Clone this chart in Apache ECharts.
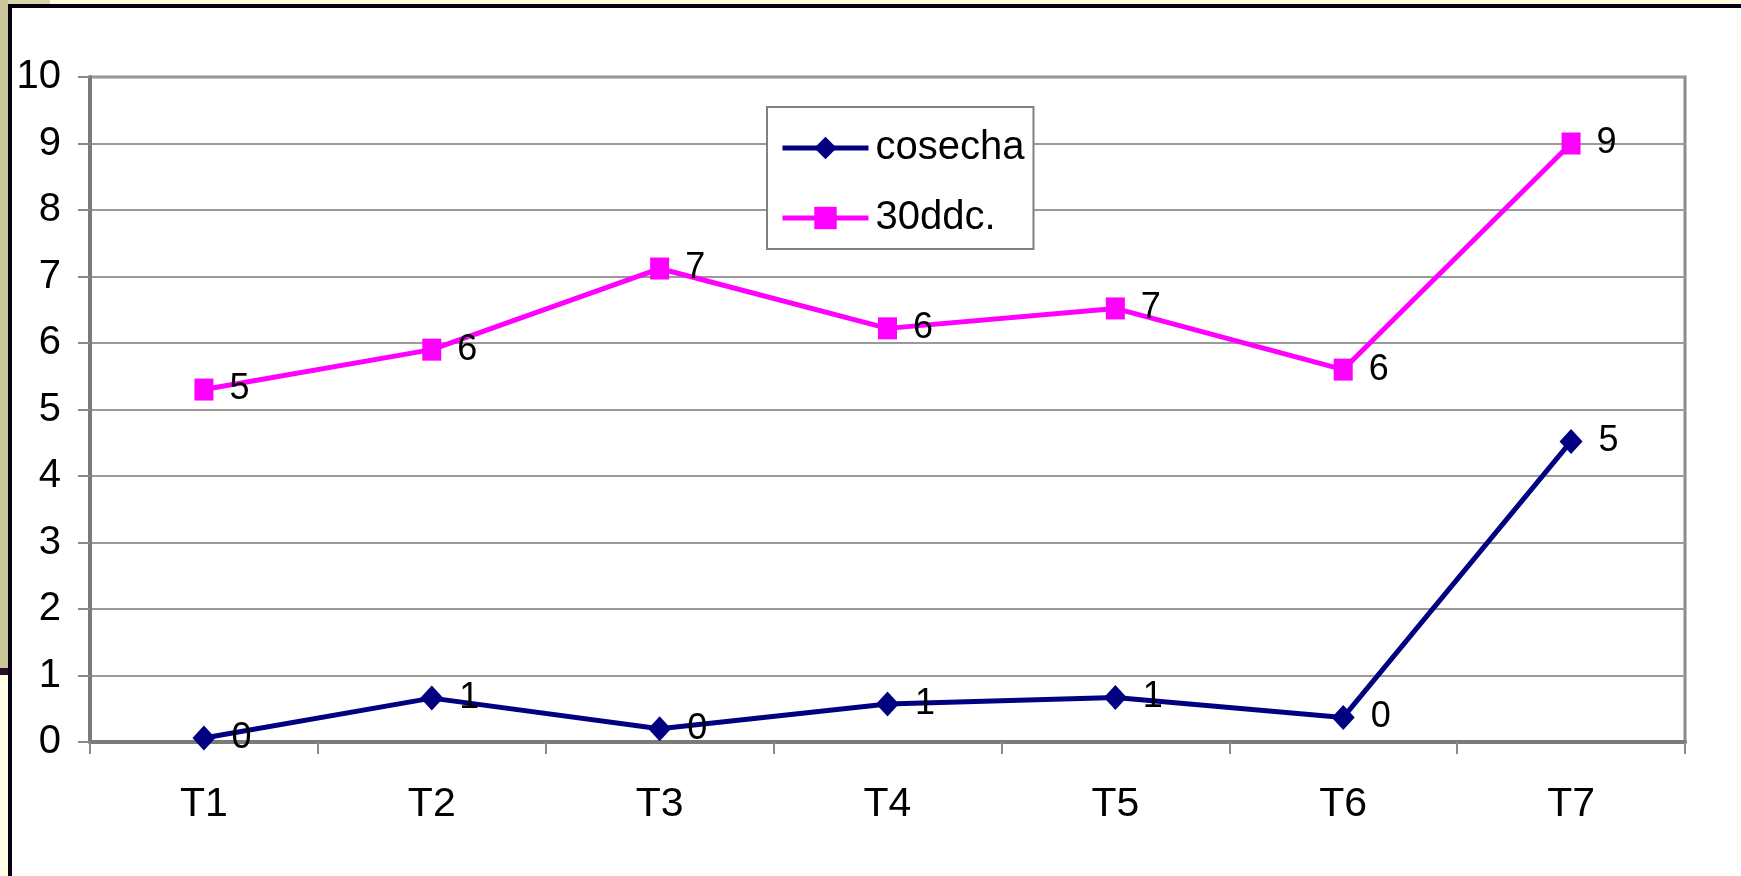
<!DOCTYPE html>
<html>
<head>
<meta charset="utf-8">
<script src="https://cdn.jsdelivr.net/npm/echarts@6/dist/echarts.min.js"></script>
<style>
html,body{margin:0;padding:0;background:#ffffff;}
#chart{width:1741px;height:876px;}
</style>
</head>
<body>
<div id="chart"></div>
<script>
const categories = ['T1','T2','T3','T4','T5','T6','T7'];
const cosecha = [0.06, 0.66, 0.2, 0.57, 0.67, 0.37, 4.52];
const ddc30 = [5.3, 5.9, 7.12, 6.22, 6.52, 5.6, 9.0];
const yTicks = [0, 10, 1];

const FONT = "'Liberation Sans', Arial, sans-serif";
const chart = echarts.init(document.getElementById('chart'), null, {renderer: 'canvas'});

const labelCfg = {
  show: true,
  position: 'right',
  distance: 16,
  color: '#000',
  fontSize: 36,
  fontFamily: FONT,
  formatter: p => String(Math.round(p.value))
};

chart.setOption({
  animation: false,
  backgroundColor: '#ffffff',
  graphic: [
    {type: 'rect', z: -10, shape: {x: 0, y: 0, width: 1741, height: 5}, style: {fill: '#FFFCE0'}},
    {type: 'rect', z: -9, shape: {x: 0, y: 0, width: 50, height: 5}, style: {fill: '#D8D6A8'}},
    {type: 'rect', z: -9, shape: {x: 0, y: 0, width: 8, height: 668}, style: {fill: '#C9C79A'}},
    {type: 'rect', z: -9, shape: {x: 0, y: 668, width: 8, height: 7}, style: {fill: '#2A0A2A'}},
    {type: 'rect', z: -9, shape: {x: 0, y: 675, width: 8, height: 201}, style: {fill: '#FFFDE3'}},
    {type: 'rect', z: -8, shape: {x: 8, y: 4, width: 1733, height: 4}, style: {fill: '#050010'}},
    {type: 'rect', z: -8, shape: {x: 8, y: 4, width: 4, height: 872}, style: {fill: '#050010'}}
  ],
  grid: {
    left: 90, right: 56, top: 77, bottom: 134,
    show: true, borderColor: '#8a8a8a', borderWidth: 3, backgroundColor: 'transparent'
  },
  legend: {
    orient: 'vertical',
    left: 767, top: 107,
    padding: [21, 9, 11, 13],
    itemGap: 30,
    itemWidth: 86,
    itemHeight: 28,
    backgroundColor: '#ffffff',
    borderColor: '#808080',
    borderWidth: 2,
    lineStyle: {width: 5},
    textStyle: {fontSize: 40, lineHeight: 40, color: '#000', fontFamily: FONT, padding: [0, 0, 0, 2]},
    data: ['cosecha', '30ddc.']
  },
  xAxis: {
    type: 'category',
    data: categories,
    boundaryGap: true,
    axisLine: {show: true, lineStyle: {color: '#7a7a7a', width: 4}},
    axisTick: {show: true, length: 12, lineStyle: {color: '#8a8a8a', width: 2}},
    axisLabel: {fontSize: 41, color: '#000', fontFamily: FONT, margin: 42},
    splitLine: {show: false}
  },
  yAxis: {
    type: 'value',
    min: yTicks[0], max: yTicks[1], interval: yTicks[2],
    axisLine: {show: true, lineStyle: {color: '#7a7a7a', width: 4}},
    axisTick: {show: true, length: 12, lineStyle: {color: '#8a8a8a', width: 2}},
    axisLabel: {fontSize: 40, color: '#000', fontFamily: FONT, margin: 29},
    splitLine: {show: true, lineStyle: {color: '#9a9a9a', width: 2}}
  },
  series: [
    {
      name: 'cosecha',
      type: 'line',
      data: cosecha,
      symbol: 'diamond',
      symbolSize: [23, 25],
      lineStyle: {color: '#000080', width: 5},
      itemStyle: {color: '#000080'},
      label: labelCfg,
      z: 3
    },
    {
      name: '30ddc.',
      type: 'line',
      data: ddc30,
      symbol: 'rect',
      symbolSize: [19, 22],
      lineStyle: {color: '#FF00FF', width: 5},
      itemStyle: {color: '#FF00FF'},
      label: labelCfg,
      z: 3
    }
  ]
});
</script>
</body>
</html>
